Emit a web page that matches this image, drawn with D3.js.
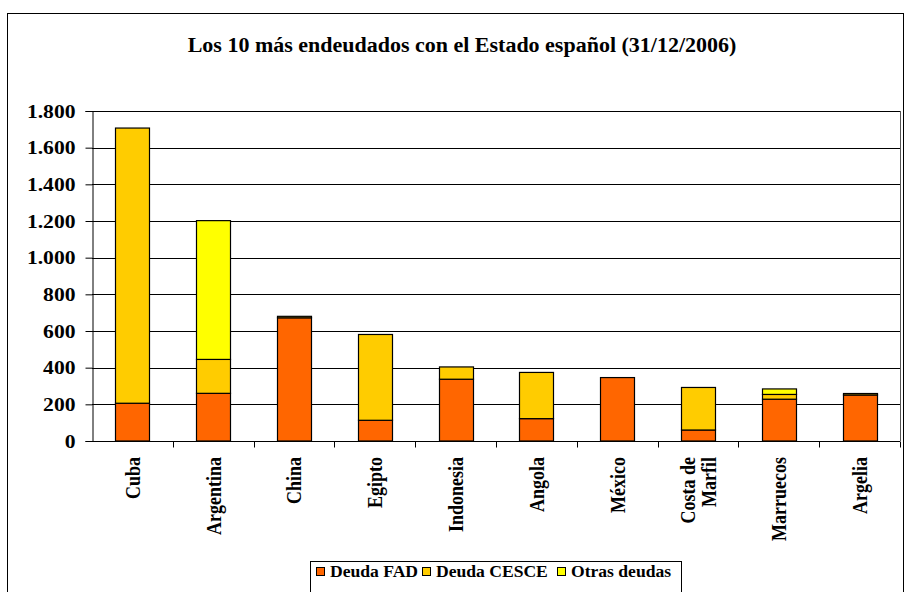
<!DOCTYPE html>
<html>
<head>
<meta charset="utf-8">
<script src="https://cdn.jsdelivr.net/npm/d3@7"></script>
<style>
  body { margin: 0; background: #fff; }
  text { font-family: "Liberation Serif", "Times New Roman", serif; font-weight: bold; fill: #000; }
</style>
</head>
<body>
<div id="container"></div>
<script>
// data
const categories = ["Cuba", "Argentina", "China", "Egipto", "Indonesia", "Angola", "México", "Costa de Marfil", "Marruecos", "Argelia"];
const labelLines = [["Cuba"], ["Argentina"], ["China"], ["Egipto"], ["Indonesia"], ["Angola"], ["México"], ["Costa de", "Marfil"], ["Marruecos"], ["Argelia"]];
const deudaFAD = [206, 260, 672, 113, 337, 122, 346, 60, 228, 251];
const deudaCESCE = [1501, 185, 8, 468, 67, 252, 0, 232, 26, 8];
const otrasDeudas = [0, 757, 0, 0, 0, 0, 0, 0, 30, 0];
const seriesNames = ["Deuda FAD", "Deuda CESCE", "Otras deudas"];
const yTicks = [0, 200, 400, 600, 800, 1000, 1200, 1400, 1600, 1800];

const colors = ["#FF6600", "#FFCC00", "#FFFF00"];
const sx = 1.2; // text in the original is stretched horizontally

const W = 904, H = 592;
const margin = { left: 92, right: 4, top: 111, bottom: 151 };

const svg = d3.select("#container").append("svg")
    .attr("width", W)
    .attr("height", H);

// outer chart frame
svg.append("rect")
    .attr("x", 7.5).attr("y", 13.5)
    .attr("width", 896).attr("height", 620)
    .attr("fill", "none").attr("stroke", "#000");

const x = d3.scaleBand()
    .domain(categories)
    .range([margin.left, W - margin.right])
    .paddingInner(0.58)
    .paddingOuter(0.29);

const y = d3.scaleLinear()
    .domain([0, 1800])
    .range([H - margin.bottom, margin.top]);

const fmt = d3.formatLocale({ decimal: ",", thousands: ".", grouping: [3], currency: ["", "€"] }).format(",d");

// gridlines
svg.append("g")
  .selectAll("line")
  .data(yTicks)
  .join("line")
    .attr("x1", margin.left).attr("x2", W - margin.right)
    .attr("y1", d => Math.round(y(d)) + 0.5).attr("y2", d => Math.round(y(d)) + 0.5)
    .attr("stroke", "#000");

// plot right border
svg.append("line")
    .attr("x1", W - margin.right + 0.5).attr("x2", W - margin.right + 0.5)
    .attr("y1", y(1800)).attr("y2", y(0))
    .attr("stroke", "#555");

// stacked bars
const rows = categories.map((c, i) => ({ cat: c, fad: deudaFAD[i], cesce: deudaCESCE[i], otras: otrasDeudas[i] }));
const stack = d3.stack().keys(["fad", "cesce", "otras"])(rows);

svg.append("g")
  .selectAll("g")
  .data(stack)
  .join("g")
    .attr("fill", (d, i) => colors[i])
  .selectAll("rect")
  .data(d => d.filter(s => s[1] - s[0] > 0))
  .join("rect")
    .attr("x", d => Math.round(x(d.data.cat)) + 0.5)
    .attr("y", d => y(d[1]))
    .attr("width", Math.round(x.bandwidth()))
    .attr("height", d => y(d[0]) - y(d[1]))
    .attr("stroke", "#000")
    .attr("stroke-width", 1.2);

// y axis
const yAxis = svg.append("g")
    .attr("transform", `translate(${margin.left + 0.5},0)`)
    .call(d3.axisLeft(y).tickValues(yTicks).tickSize(7).tickPadding(10).tickFormat(fmt));
yAxis.select(".domain").attr("stroke", "#000");
yAxis.selectAll(".tick line").attr("stroke", "#000");
yAxis.selectAll(".tick text")
    .attr("font-size", 18)
    .attr("font-family", null)
    .attr("x", null).attr("dy", "0.34em")
    .attr("transform", `translate(-17,0) scale(${sx},1)`);

// x axis: ticks at band boundaries
const xAxisY = Math.round(y(0)) + 0.5;
svg.append("line")
    .attr("x1", margin.left).attr("x2", W - margin.right)
    .attr("y1", xAxisY).attr("y2", xAxisY)
    .attr("stroke", "#000");
svg.append("g")
  .selectAll("line")
  .data(categories)
  .join("line")
    .attr("x1", (d, i) => Math.round(margin.left + x.step() * (i + 1)) + 0.5)
    .attr("x2", (d, i) => Math.round(margin.left + x.step() * (i + 1)) + 0.5)
    .attr("y1", xAxisY).attr("y2", xAxisY + 6)
    .attr("stroke", "#000");

// category labels, rotated
const labels = svg.append("g")
  .selectAll("g")
  .data(categories)
  .join("g")
    .attr("transform", d => `translate(${x(d) + x.bandwidth() / 2},${y(0) + 16}) scale(${sx},1) rotate(-90)`);
labels.each(function(d, i) {
    const lines = labelLines[i];
    const n = lines.length;
    d3.select(this).selectAll("text")
      .data(lines)
      .join("text")
        .attr("text-anchor", "end")
        .attr("font-size", 18)
        .attr("y", (l, j) => (j - (n - 1) / 2) * 18)
        .attr("dy", "0.34em")
        .text(l => l);
});

// title
svg.append("text")
    .attr("transform", "translate(462,52) scale(1.1,1)")
    .attr("text-anchor", "middle")
    .attr("font-size", 20)
    .text("Los 10 más endeudados con el Estado español (31/12/2006)");

// legend
const legend = svg.append("g");
legend.append("rect")
    .attr("x", 310.5).attr("y", 561.5)
    .attr("width", 371).attr("height", 40)
    .attr("fill", "#fff").attr("stroke", "#000");
const legendX = [316, 422, 557];
const items = legend.selectAll("g.item")
  .data(seriesNames)
  .join("g")
    .attr("class", "item")
    .attr("transform", (d, i) => `translate(${legendX[i]},0)`);
items.append("rect")
    .attr("x", 0.5).attr("y", 567.5)
    .attr("width", 8).attr("height", 8)
    .attr("fill", (d, i) => colors[i])
    .attr("stroke", "#000");
items.append("text")
    .attr("transform", "translate(14,576.5) scale(1.1,1)")
    .attr("font-size", 16)
    .text(d => d);
</script>
</body>
</html>
